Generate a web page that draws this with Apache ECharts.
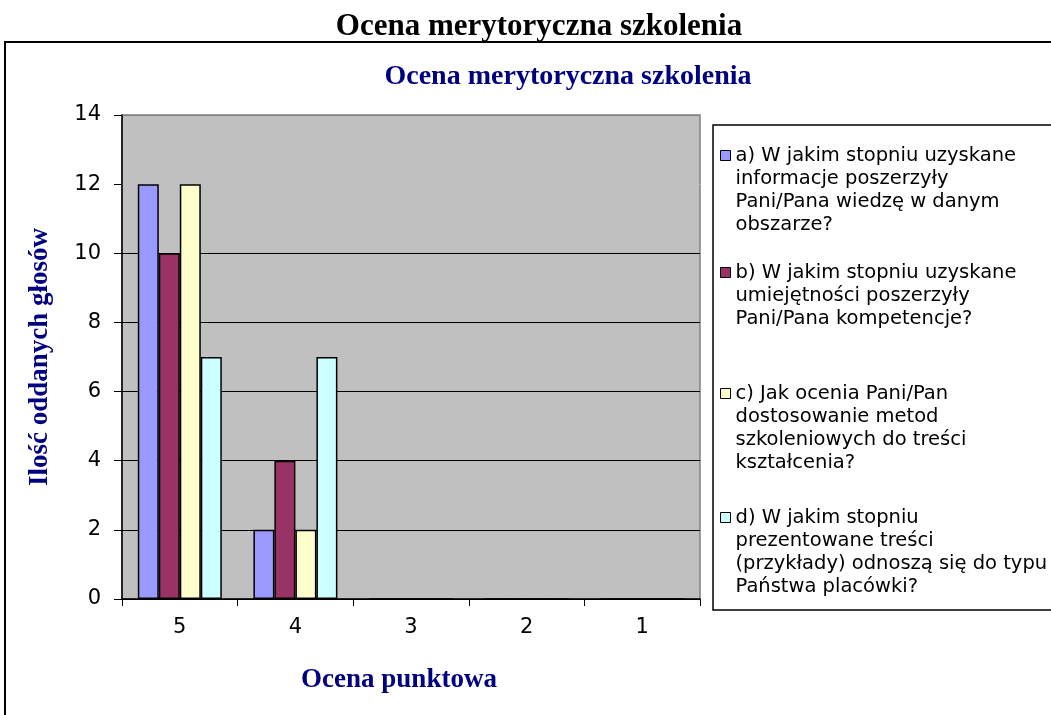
<!DOCTYPE html>
<html>
<head>
<meta charset="utf-8">
<script src="https://cdn.jsdelivr.net/npm/echarts@6/dist/echarts.min.js"></script>
<style>
  html, body { margin: 0; padding: 0; background: #fff; }
  #chart { width: 1051px; height: 715px; }
</style>
</head>
<body>
<div id="chart"></div>
<script>
// dane z wykresu
const categories = ["5", "4", "3", "2", "1"];
const seriesNames = [
  "a) W jakim stopniu uzyskane informacje poszerzyły Pani/Pana wiedzę w danym obszarze?",
  "b) W jakim stopniu uzyskane umiejętności poszerzyły Pani/Pana kompetencje?",
  "c) Jak ocenia Pani/Pan dostosowanie metod szkoleniowych do treści kształcenia?",
  "d) W jakim stopniu prezentowane treści (przykłady) odnoszą się do typu Państwa placówki?"
];
const legendLines = [
  ["a) W jakim stopniu uzyskane", "informacje poszerzyły", "Pani/Pana wiedzę w danym", "obszarze?"],
  ["b) W jakim stopniu uzyskane", "umiejętności poszerzyły", "Pani/Pana kompetencje?"],
  ["c) Jak ocenia Pani/Pan", "dostosowanie metod", "szkoleniowych do treści", "kształcenia?"],
  ["d) W jakim stopniu", "prezentowane treści", "(przykłady) odnoszą się do typu", "Państwa placówki?"]
];
const valuesA = [12, 2, 0, 0, 0];
const valuesB = [10, 4, 0, 0, 0];
const valuesC = [12, 2, 0, 0, 0];
const valuesD = [7, 7, 0, 0, 0];
const yTicks = [0, 2, 4, 6, 8, 10, 12, 14];

const colors = ["#9999FF", "#993366", "#FFFFCC", "#CCFFFF"];
const allValues = [valuesA, valuesB, valuesC, valuesD];
// y srodka pierwszej linii kazdego wpisu legendy
const legendFirstLine = [155, 272, 393, 517];
const lineH = 23;

const sansFont = "'DejaVu Sans', sans-serif";
const serifFont = "'Liberation Serif', 'Times New Roman', serif";

let _series = allValues.map((vals, i) => {
  return {
    name: seriesNames[i],
    type: "bar",
    data: vals,
    barWidth: 21,
    barGap: "0%",
    itemStyle: {
      color: colors[i],
      borderColor: "#000",
      borderWidth: 1.5
    }
  };
});

// ikona: kwadrat przy pierwszej linii, reszta wysokosci pusta
let _legends = seriesNames.map((name, i) => {
  const h = legendLines[i].length * lineH;
  const sq = (lineH - 10) / 2;
  return {
    data: [name],
    left: 720,
    top: legendFirstLine[i] - lineH / 2,
    padding: 0,
    icon: "path://M0," + sq + "L10," + sq + "L10," + (sq + 10) + "L0," + (sq + 10) + "Z M0,0 M0," + h,
    itemWidth: 10,
    itemHeight: h,
    itemGap: 0,
    selectedMode: false,
    itemStyle: { borderColor: "#000", borderWidth: 1 },
    formatter: () => legendLines[i].join("\n"),
    textStyle: {
      fontFamily: sansFont,
      fontSize: 19.5,
      color: "#000",
      lineHeight: lineH
    }
  };
});

const option = {
  animation: false,
  backgroundColor: "#fff",
  title: [
    {
      text: "Ocena merytoryczna szkolenia",
      left: 534,
      top: 6,
      textAlign: "center",
      textStyle: { fontFamily: serifFont, fontWeight: "bold", fontSize: 31, color: "#000" }
    },
    {
      text: "Ocena merytoryczna szkolenia",
      left: 563,
      top: 58,
      textAlign: "center",
      textStyle: { fontFamily: serifFont, fontWeight: "bold", fontSize: 28, color: "#000080" }
    }
  ],
  graphic: [
    {
      type: "rect",
      shape: { x: 5, y: 42, width: 1100, height: 700 },
      style: { fill: "none", stroke: "#000", lineWidth: 2 },
      silent: true
    },
    {
      type: "rect",
      shape: { x: 713, y: 125, width: 400, height: 485 },
      style: { fill: "none", stroke: "#000", lineWidth: 1.5 },
      silent: true
    }
  ],
  legend: _legends,
  grid: {
    left: 122,
    right: 351,
    top: 115,
    bottom: 116,
    show: true,
    backgroundColor: "#C0C0C0",
    borderColor: "#808080",
    borderWidth: 1.5
  },
  xAxis: {
    type: "category",
    data: categories,
    name: "Ocena punktowa",
    nameLocation: "middle",
    nameGap: 68,
    nameTextStyle: {
      fontFamily: serifFont, fontWeight: "bold", fontSize: 27, color: "#000080",
      padding: [0, 24, 0, 0]
    },
    axisLine: { show: true, lineStyle: { color: "#000", width: 1.5 } },
    axisTick: { show: true, length: 7, lineStyle: { color: "#000" } },
    axisLabel: { fontFamily: sansFont, fontSize: 21, color: "#000", margin: 18 }
  },
  yAxis: {
    type: "value",
    min: yTicks[0],
    max: yTicks[yTicks.length - 1],
    interval: 2,
    name: "Ilość oddanych głosów",
    nameLocation: "middle",
    nameGap: 68,
    nameTextStyle: { fontFamily: serifFont, fontWeight: "bold", fontSize: 27, color: "#000080" },
    axisLine: { show: true, lineStyle: { color: "#000", width: 1.5 } },
    axisTick: { show: true, length: 8, lineStyle: { color: "#000" } },
    axisLabel: { fontFamily: sansFont, fontSize: 21, color: "#000", margin: 21 },
    splitLine: {
      show: true,
      lineStyle: {
        color: ["#000", "#000", "#000", "#000", "#000", "#000", "#C0C0C0", "#808080"],
        width: 1
      }
    }
  },
  series: _series
};

const chart = echarts.init(document.getElementById("chart"));
chart.setOption(option);
</script>
</body>
</html>
